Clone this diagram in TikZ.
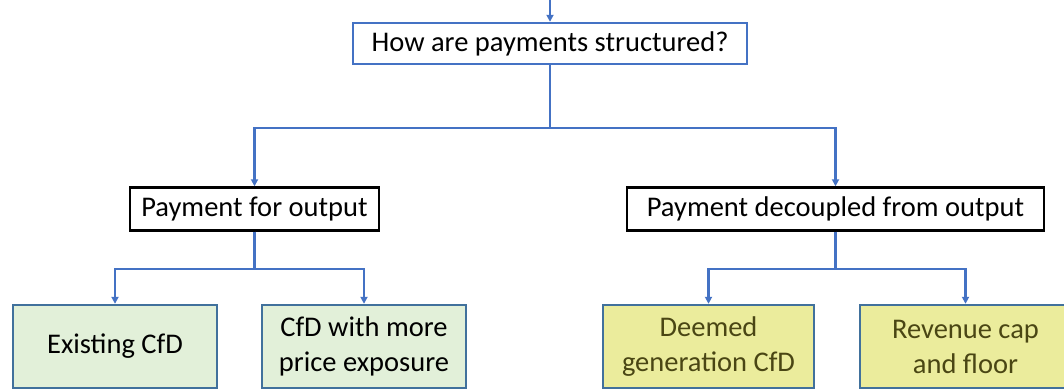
\documentclass[tikz,border=0pt]{standalone}
\usepackage{fontspec}
\setmainfont{Carlito}
\usetikzlibrary{arrows.meta}
\definecolor{linkblue}{HTML}{4472C4}
\definecolor{edgeblue}{HTML}{41719C}
\definecolor{leafgreen}{HTML}{E2F0D9}
\definecolor{leafyellow}{HTML}{EBEC9C}
\definecolor{olivetext}{HTML}{4A4614}
\tikzset{
  link/.style={draw=linkblue, line width=2.4pt, -{Triangle[length=7pt, width=7pt]}},
  topbox/.style={draw=linkblue, line width=2.4pt, fill=white, minimum width=394pt, minimum height=41pt},
  midbox/.style={draw=black, line width=2.4pt, fill=white, minimum height=43pt},
  leafbox/.style={draw=edgeblue, line width=2.4pt, minimum width=204pt, minimum height=83pt, align=center},
}
\begin{document}
\begin{tikzpicture}[x=1pt, y=-1pt, font=\fontsize{28.5}{35}\selectfont]
  \clip (0,0) rectangle (1064,390);
  % question at the top
  \coordinate (in) at (550,0);
  \node[topbox] (q) at (550,43.5) {How are payments structured?};
  % two kinds of payment
  \node[midbox, minimum width=249pt] (po) at (254.5,209) {Payment for output};
  \node[midbox, minimum width=417pt] (pd) at (835.5,209) {Payment decoupled from output};
  % the four options
  \node[leafbox, fill=leafgreen] (ex) at (115,346.5) {Existing CfD};
  \node[leafbox, fill=leafgreen] (mp) at (364,346.5) {CfD with more\\price exposure};
  \node[leafbox, fill=leafyellow, minimum width=211pt, text=olivetext] (dg) at (708.5,346.5) {Deemed\\generation CfD};
  \node[leafbox, fill=leafyellow, minimum width=211pt, text=olivetext] (rc) at (965.5,346.5) {Revenue cap\\and floor};
  % connectors
  \draw[link] (in) -- (q.north);
  \draw[link] (q.south) -- ++(0,63) -| (po.north);
  \draw[link] (q.south) -- ++(0,63) -| (pd.north);
  \draw[link] (po.south) -- ++(0,37) -| (ex.north);
  \draw[link] (po.south) -- ++(0,37) -| (mp.north);
  \draw[link] (pd.south) -- ++(0,37) -| (dg.north);
  \draw[link] (pd.south) -- ++(0,37) -| (rc.north);
\end{tikzpicture}
\end{document}
